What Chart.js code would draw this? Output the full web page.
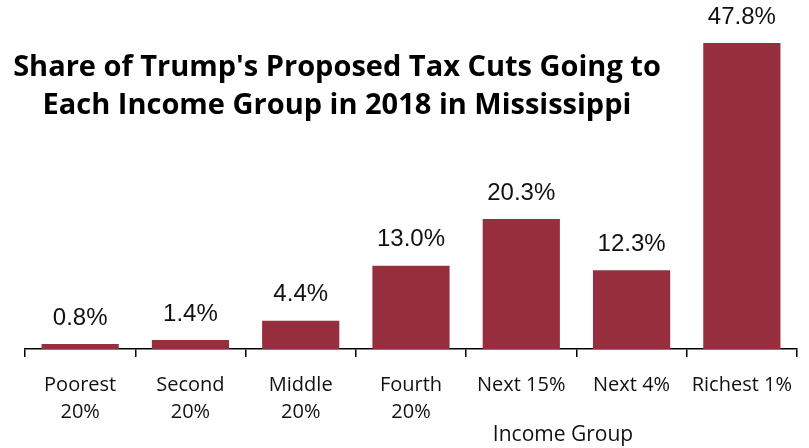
<!DOCTYPE html>
<html>
<head>
<meta charset="utf-8">
<script src="https://cdn.jsdelivr.net/npm/chart.js@4"></script>
<style>
  html, body { margin: 0; padding: 0; background: #fff; }
  #wrap { width: 809px; height: 448px; }
</style>
</head>
<body>
<div id="wrap"><canvas id="chart"></canvas></div>
<script>
const categories = [['Poorest', '20%'], ['Second', '20%'], ['Middle', '20%'], ['Fourth', '20%'], ['Next 15%'], ['Next 4%'], ['Richest 1%']];
const shares = [0.8, 1.4, 4.4, 13.0, 20.3, 12.3, 47.8];
const titleLines = ["Share of Trump's Proposed Tax Cuts Going to", 'Each Income Group in 2018 in Mississippi'];
const axisTitle = 'Income Group';

const FONT = "'Open Sans', 'Noto Sans', sans-serif";

// value labels above each bar
const barLabels = {
  id: 'barLabels',
  afterDatasetsDraw(chart) {
    const ctx = chart.ctx;
    const meta = chart.getDatasetMeta(0);
    ctx.save();
    ctx.font = "24px 'Liberation Sans', Arial, sans-serif";
    ctx.fillStyle = '#111';
    ctx.textAlign = 'center';
    ctx.textBaseline = 'bottom';
    meta.data.forEach((bar, i) => {
      ctx.fillText(shares[i].toFixed(1) + '%', bar.x, bar.y - 14);
    });
    ctx.restore();
  }
};

// title inside the plot area, axis title off to the right
const extraText = {
  id: 'extraText',
  afterDraw(chart) {
    const ctx = chart.ctx;
    ctx.save();
    ctx.font = 'bold 29px ' + FONT;
    ctx.fillStyle = '#000';
    ctx.textAlign = 'center';
    ctx.textBaseline = 'middle';
    titleLines.forEach((line, i) => ctx.fillText(line, 337, 68 + i * 38));
    ctx.font = '21px ' + FONT;
    ctx.fillStyle = '#111';
    ctx.fillText(axisTitle, 563, 435);
    ctx.restore();
  }
};

new Chart(document.getElementById('chart'), {
  type: 'bar',
  data: {
    labels: categories,
    datasets: [{
      data: shares,
      backgroundColor: '#962e3e',
      barPercentage: 0.7,
      categoryPercentage: 1.0
    }]
  },
  options: {
    responsive: true,
    maintainAspectRatio: false,
    animation: false,
    layout: { padding: { left: 25, right: 12, top: 29, bottom: 7 } },
    plugins: { legend: { display: false }, tooltip: { enabled: false } },
    scales: {
      y: { display: false, min: 0, max: 50 },
      x: {
        grid: { drawOnChartArea: false, color: '#000', tickLength: 8, lineWidth: 1.5 },
        border: { color: '#000', width: 1.5 },
        ticks: { color: '#111', font: { family: FONT, size: 20, lineHeight: 1.35 }, padding: 15, maxRotation: 0, autoSkip: false }
      }
    }
  },
  plugins: [barLabels, extraText]
});
</script>
</body>
</html>
